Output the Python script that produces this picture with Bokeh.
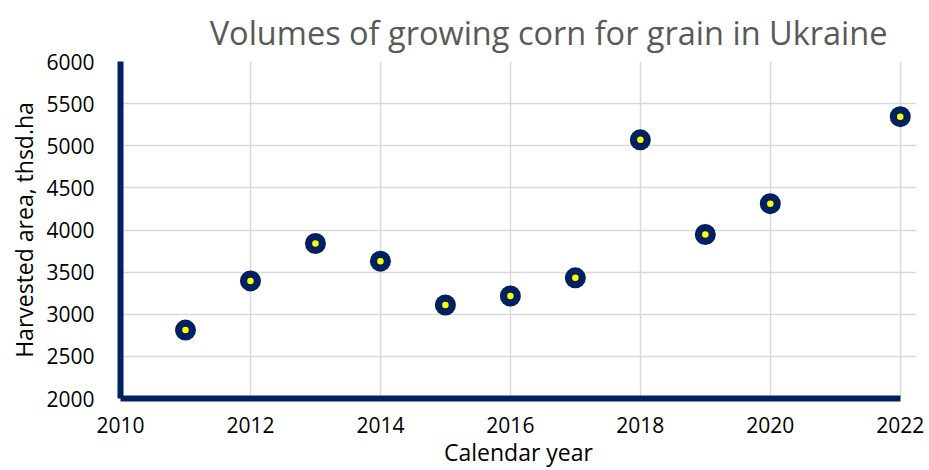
from bokeh.plotting import figure
from bokeh.models import ColumnDataSource, Range1d, FixedTicker
from bokeh.embed import file_html
from bokeh.resources import INLINE

# Harvested area of corn for grain in Ukraine, thousand hectares
years = [2011, 2012, 2013, 2014, 2015, 2016, 2017, 2018, 2019, 2020, 2022]
area = [2812, 3396, 3840, 3630, 3110, 3217, 3432, 5070, 3947, 4313, 5345]

x_ticks = [2010, 2012, 2014, 2016, 2018, 2020, 2022]
y_ticks = [2000, 2500, 3000, 3500, 4000, 4500, 5000, 5500, 6000]

NAVY = "#002060"
FONT = "Open Sans"

src = ColumnDataSource(data=dict(year=years, area=area))

# the x range runs a little past 2022 so the last marker is not cut by the
# frame; axis line and grid stop at 2022 through their bounds
p = figure(
    width=929, height=470,
    output_backend="svg", toolbar_location=None,
    x_range=Range1d(2010, 2022.25), y_range=Range1d(2000, 6000),
    min_border_left=120, min_border_right=13,
    min_border_top=61, min_border_bottom=71,
    title="Volumes of growing corn for grain in Ukraine",
)
p.outline_line_color = None
p.background_fill_color = "white"
p.border_fill_color = "white"

p.title.text_font = FONT
p.title.text_font_size = "32.5px"
p.title.text_font_style = "normal"
p.title.text_color = "#595959"
p.title.align = "right"
p.title.offset = 29
p.title.standoff = 13

for ax in (p.xaxis, p.yaxis):
    ax.axis_line_color = NAVY
    ax.axis_line_width = 6
    ax.major_tick_line_color = None
    ax.minor_tick_line_color = None
    ax.major_label_text_font = FONT
    ax.major_label_text_font_size = "21px"
    ax.major_label_text_color = "#000000"
    ax.axis_label_text_font = FONT
    ax.axis_label_text_font_size = "23px"
    ax.axis_label_text_font_style = "normal"
    ax.axis_label_text_color = "#000000"

p.xaxis.bounds = (2010, 2022)
p.xaxis.ticker = FixedTicker(ticks=x_ticks)
p.yaxis.ticker = FixedTicker(ticks=y_ticks)
p.xaxis.major_label_standoff = 12
p.yaxis.major_label_standoff = 20
p.xaxis.axis_label = "Calendar year"
p.yaxis.axis_label = "Harvested area, thsd.ha"
p.xaxis.axis_label_standoff = 0
p.yaxis.axis_label_standoff = 3

p.xgrid.ticker = FixedTicker(ticks=x_ticks)
p.ygrid.ticker = FixedTicker(ticks=y_ticks)
p.ygrid.bounds = (2010, 2022)
for g in (p.xgrid, p.ygrid):
    g.grid_line_color = "#d9d9d9"
    g.grid_line_width = 1.5

# dark ring with a small yellow centre
p.scatter("year", "area", source=src, size=21, fill_color=NAVY,
          line_color=NAVY, line_width=0)
p.scatter("year", "area", source=src, size=6.5, fill_color="#ffff00",
          line_color=None)

open("out.html", "w").write(file_html(p, INLINE))
